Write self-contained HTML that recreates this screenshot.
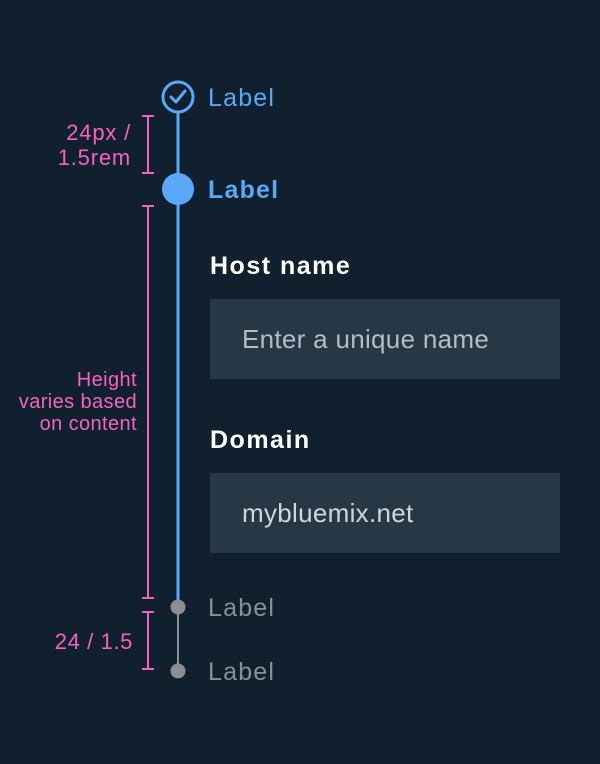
<!DOCTYPE html>
<html><head><style>
body{margin:0;width:600px;height:764px;background:#10202e;font-family:"Liberation Sans",sans-serif;position:relative;overflow:hidden}
.t{position:absolute;white-space:nowrap;line-height:1}
.box{position:absolute;left:210px;width:350px;background:#263746}
</style></head><body>
<svg width="600" height="764" style="position:absolute;left:0;top:0">
<line x1="178" y1="113" x2="178" y2="600" stroke="#5aa9f8" stroke-width="3"/>
<line x1="178" y1="607" x2="178" y2="671" stroke="#8b8f93" stroke-width="2"/>
<circle cx="178" cy="97" r="15" fill="#10202e" stroke="#5aa9f8" stroke-width="3"/>
<polyline points="171,97 176,102 185,91" fill="none" stroke="#5aa9f8" stroke-width="3" stroke-linecap="round" stroke-linejoin="round"/>
<circle cx="178" cy="189" r="16" fill="#5aa9f8"/>
<circle cx="178" cy="607" r="7.5" fill="#8b8f93"/>
<circle cx="178" cy="671" r="7.5" fill="#8b8f93"/>
<g stroke="#f562c0" stroke-width="2">
<line x1="148" y1="116" x2="148" y2="173"/><line x1="142" y1="116" x2="154" y2="116"/><line x1="142" y1="173" x2="154" y2="173"/>
<line x1="148" y1="206" x2="148" y2="598"/><line x1="142" y1="206" x2="154" y2="206"/><line x1="142" y1="598" x2="154" y2="598"/>
<line x1="148" y1="612" x2="148" y2="669"/><line x1="142" y1="612" x2="154" y2="612"/><line x1="142" y1="669" x2="154" y2="669"/>
</g>
</svg>
<div class="t" style="left:208px;top:86px;font-size:25px;letter-spacing:1.2px;color:#5aa9f8">Label</div>
<div class="t" style="left:208px;top:178px;font-size:25px;letter-spacing:1.2px;color:#5aa9f8;font-weight:bold">Label</div>
<div class="t" style="left:208px;top:596px;font-size:25px;letter-spacing:1.2px;color:#8b8f93">Label</div>
<div class="t" style="left:208px;top:660px;font-size:25px;letter-spacing:1.2px;color:#8b8f93">Label</div>
<div class="t" style="right:469px;top:120px;font-size:22px;letter-spacing:0.8px;color:#f562c0;text-align:right;line-height:25px">24px /<br>1.5rem</div>
<div class="t" style="right:463px;top:369px;font-size:20px;letter-spacing:0.4px;color:#f562c0;text-align:right;line-height:22px">Height<br>varies based<br>on content</div>
<div class="t" style="right:467px;top:631px;font-size:22px;letter-spacing:0.6px;color:#f562c0">24 / 1.5</div>
<div class="t" style="left:210px;top:254px;font-size:25px;letter-spacing:1.5px;color:#fff;font-weight:bold">Host name</div>
<div class="box" style="top:299px;height:80px"></div>
<div class="t" style="left:242px;top:326px;font-size:26px;letter-spacing:0.3px;color:#b4bcc4">Enter a unique name</div>
<div class="t" style="left:210px;top:428px;font-size:25px;letter-spacing:1.5px;color:#fff;font-weight:bold">Domain</div>
<div class="box" style="top:473px;height:80px"></div>
<div class="t" style="left:242px;top:500px;font-size:26px;letter-spacing:0.3px;color:#d0d6dc">mybluemix.net</div>
</body></html>
